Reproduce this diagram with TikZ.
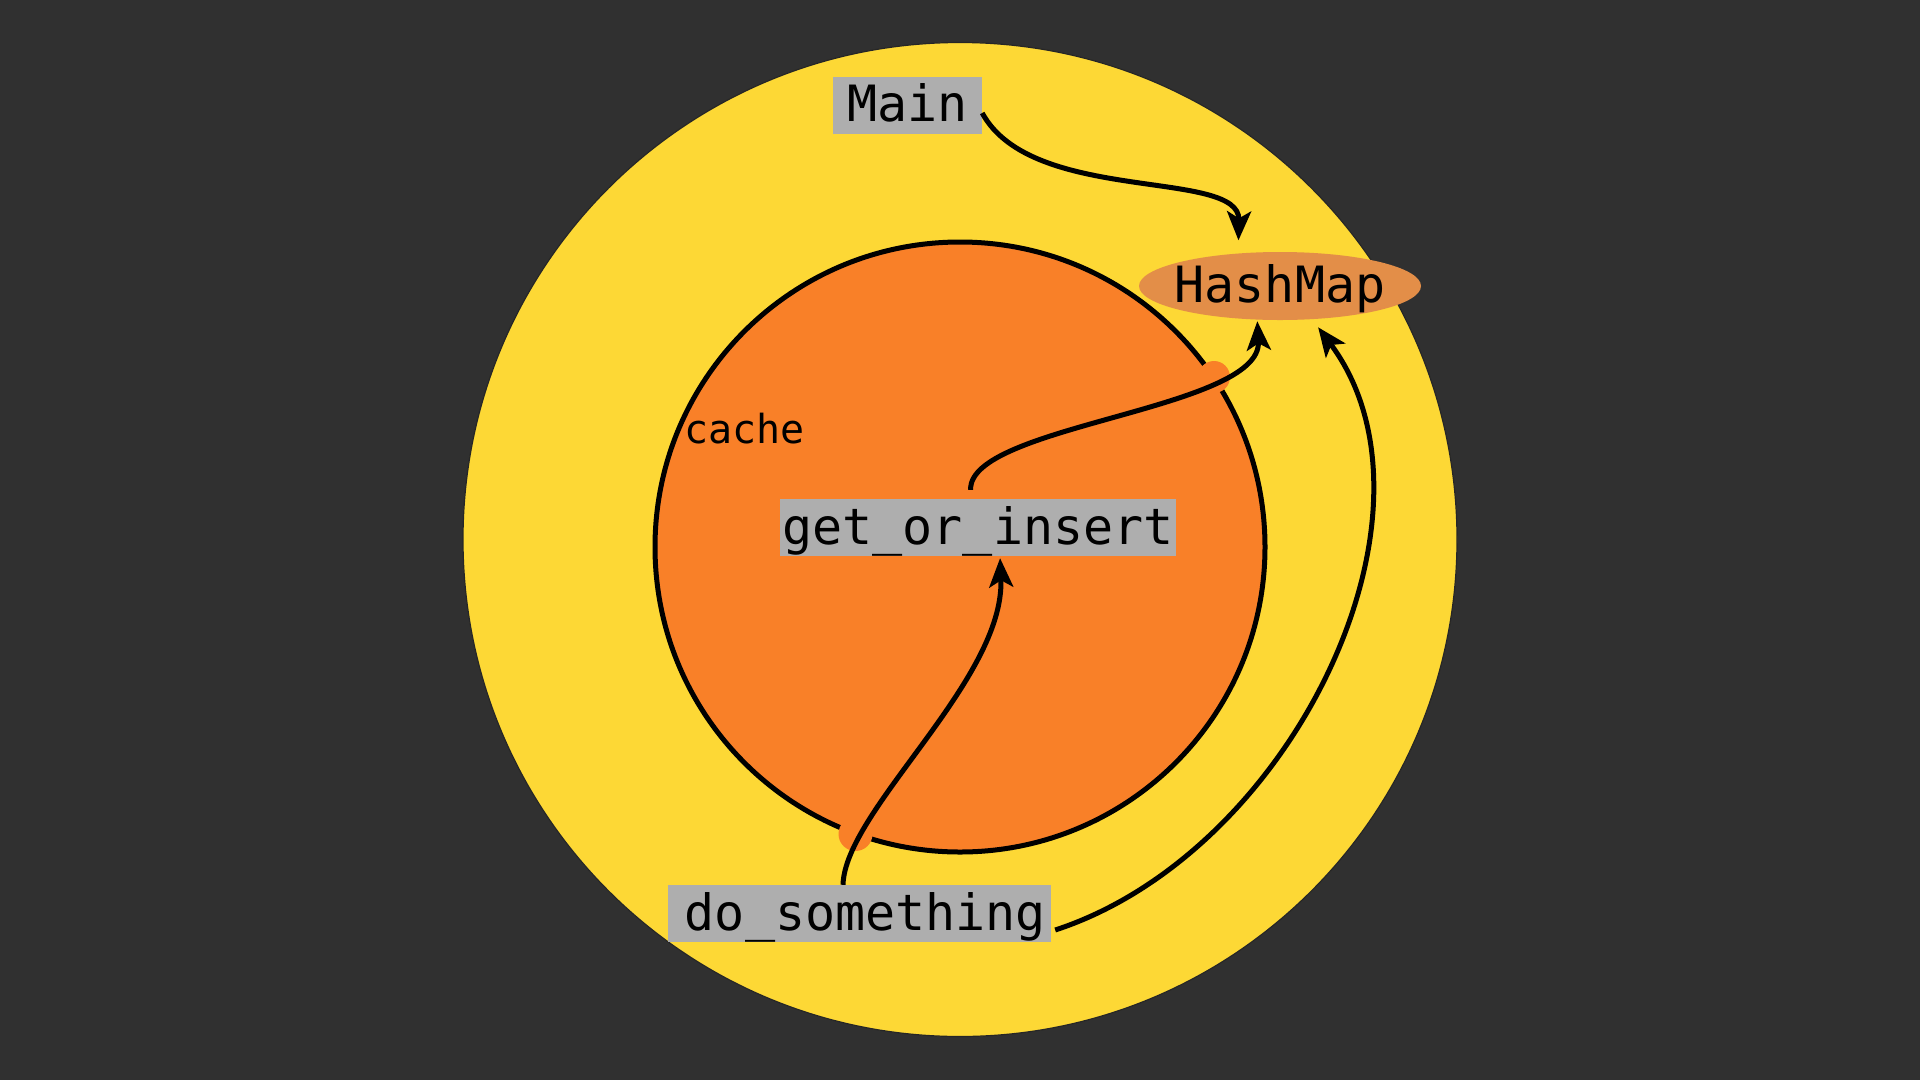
\documentclass[tikz,border=0pt]{standalone}
\usepackage{fontspec}
\newfontfamily\monof{DejaVu Sans Mono}
\usetikzlibrary{arrows.meta,shapes.geometric}
\definecolor{bg}{HTML}{303030}
\definecolor{yel}{HTML}{FDD835}
\definecolor{org}{HTML}{F98028}
\definecolor{hmc}{HTML}{E38E48}
\definecolor{boxc}{HTML}{AEAEAE}
\begin{document}
\begin{tikzpicture}[x=1pt,y=-1pt,
  codebox/.style={rectangle, fill=boxc, inner xsep=2pt, inner ysep=0pt,
    text height=45pt, text depth=12pt, text=black,
    font=\monof\fontsize{50}{60}\selectfont},
  conn/.style={line width=5pt, draw=black,
    -{Stealth[length=29pt,width=24pt,inset=7pt]}},
  blob/.style={fill=org}]
\fill[bg] (0,0) rectangle (1920,1080);
\useasboundingbox (0,0) rectangle (1920,1080);
% circles
\filldraw[fill=yel, draw=black!85, line width=1.2pt] (960,539.5) circle[radius=497pt];
\filldraw[fill=org, draw=black, line width=5pt] (960,547) circle[radius=305pt];
\fill[blob] (1214,377) circle[radius=16pt];
\fill[blob] (855.5,834) circle[radius=17pt];
% nodes
\node[codebox, minimum width=149pt] (main) at (907.5,105) {Main};
\node[codebox, minimum width=396pt] (gi) at (978,527.5) {get\_or\_insert};
\node[codebox, minimum width=383pt] (ds) at (859.5,913.5) {\hspace*{12pt}do\_something};
\node[ellipse, fill=hmc, minimum width=282pt, minimum height=68pt, inner sep=0pt,
  text height=40pt, text depth=7pt, font=\monof\fontsize{50}{60}\selectfont]
  (hm) at (1280,286) {\makebox[0pt]{HashMap}};
\node[font=\monof\fontsize{40}{48}\selectfont, anchor=base west, inner sep=0pt]
  (cache) at (684,443) {cache};
% connectors
\draw[conn, shorten >=13pt] ([yshift=-8pt]main.east)
  .. controls (1032,205) and (1240,168) .. (hm.142.3);
\draw[conn, shorten <=9pt, shorten >=1.5pt] ([xshift=-7pt]gi.north)
  .. controls (968,425) and (1262,410) .. (hm.236.8);
\draw[conn, shorten >=2pt] ([xshift=-16.5pt]ds.north)
  .. controls (845,810) and (1005,680) .. ([xshift=22pt]gi.south);
\draw[conn, shorten >=10pt] ([shift={(4pt,-16.5pt)}]ds.east)
  .. controls (1292.5,852.5) and (1456,512) .. (hm.314);
\end{tikzpicture}
\end{document}
